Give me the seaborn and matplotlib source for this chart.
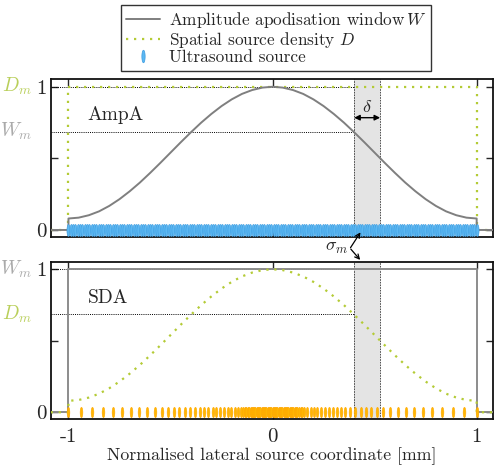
import numpy as np
import pandas as pd
import matplotlib
matplotlib.use("Agg")
import matplotlib.pyplot as plt
import seaborn as sns
from matplotlib.lines import Line2D

# ---------------- data ----------------
x_samples = np.linspace(-1, 1, 41)
W_ampa = [0.080, 0.086, 0.103, 0.130, 0.168, 0.215, 0.270, 0.331, 0.398, 0.468, 0.540,
          0.612, 0.682, 0.749, 0.810, 0.865, 0.912, 0.950, 0.977, 0.994, 1.000,
          0.994, 0.977, 0.950, 0.912, 0.865, 0.810, 0.749, 0.682, 0.612, 0.540,
          0.468, 0.398, 0.331, 0.270, 0.215, 0.168, 0.130, 0.103, 0.086, 0.080]
D_sda = list(W_ampa)
n_sources_top = 176
sda_sources_right = [0.000, 0.006, 0.012, 0.018, 0.024, 0.030, 0.036, 0.042, 0.048, 0.054,
                     0.060, 0.066, 0.072, 0.078, 0.084, 0.090, 0.096, 0.102, 0.108, 0.115,
                     0.122, 0.129, 0.137, 0.145, 0.155, 0.170, 0.186, 0.203, 0.220, 0.238,
                     0.256, 0.275, 0.294, 0.314, 0.335, 0.357, 0.380, 0.405, 0.431, 0.457,
                     0.483, 0.510, 0.540, 0.575, 0.613, 0.653, 0.694, 0.736, 0.780, 0.830,
                     0.885, 0.940, 1.000]
W_m = 0.687
D_m = 0.687
band = (0.40, 0.527)
xticks = [-1, 0, 1]
xtick_labels = ["-1", "0", "1"]

# ---------------- style ----------------
sns.set_style("ticks")
plt.rcParams["font.family"] = "serif"
plt.rcParams["font.serif"] = ["cmr10"]
plt.rcParams["mathtext.fontset"] = "cm"
plt.rcParams["axes.unicode_minus"] = False
plt.rcParams["axes.formatter.use_mathtext"] = True

GRAY = "#7f7f7f"
GREEN = "#b4cb36"
BLUE_F = "#5cb8f2"
BLUE_E = "#3a9ae0"
ORANGE_F = "#ffb703"
ORANGE_E = "#ffa600"
XMIN, XMAX = -1.087, 1.08

t = np.linspace(0, 2 * np.pi, 40)
ellipse = list(zip(0.13 * np.cos(t), 0.5 * np.sin(t)))

fig = plt.figure(figsize=(4.95, 4.70), dpi=100)
ax1 = fig.add_axes([50.7 / 495, 1 - 236.7 / 470, 442.3 / 495, 157.4 / 470])
ax2 = fig.add_axes([50.7 / 495, 1 - 419.3 / 470, 442.3 / 495, 157.6 / 470])

dot = (0, (1, 2.6))
refdot = (0, (1, 1.2))


def curve(x_in, y_in):
    xs = [XMIN, -1] + list(x_in) + [1, XMAX]
    ys = [0, 0] + list(y_in) + [0, 0]
    return xs, ys


def rect():
    return [XMIN, -1, -1, 1, 1, XMAX], [0, 0, 1, 1, 0, 0]


for ax in (ax1, ax2):
    ax.axvspan(band[0], band[1], color="#e4e4e4", zorder=0, lw=0)
    for b in band:
        ax.axvline(b, color="#333333", lw=0.6, ls=(0, (2, 1.2)), zorder=1)

# ---- top panel: AmpA ----
wx, wy = curve(x_samples, W_ampa)
dx, dy = rect()
ax1.plot([XMIN, band[0]], [1, 1], color="black", lw=0.7, ls=refdot, zorder=2)
ax1.plot([XMIN, band[0]], [W_m, W_m], color="black", lw=0.7, ls=refdot, zorder=2)
sns.lineplot(x=dx, y=dy, sort=False, estimator=None, ax=ax1, color=GREEN, lw=1.6, ls=dot, zorder=3)
sns.lineplot(x=wx, y=wy, sort=False, estimator=None, ax=ax1, color=GRAY, lw=1.4, zorder=4)
src_top = np.linspace(-1, 1, n_sources_top)
sns.scatterplot(x=src_top, y=np.zeros_like(src_top), ax=ax1, marker=ellipse, s=75,
                color=BLUE_F, edgecolor=BLUE_E, linewidth=0.4, zorder=5, legend=False)
ax1.text(-0.907, 0.80, "AmpA", fontsize=14, ha="left", va="center")
ax1.annotate("", xy=(band[0], 0.784), xytext=(band[1], 0.784),
             arrowprops=dict(arrowstyle="<|-|>", color="black", lw=1.0,
                             shrinkA=0, shrinkB=0, mutation_scale=8))
ax1.text(np.mean(band), 0.86, r"$\delta$", fontsize=13, ha="center", va="center")

# ---- bottom panel: SDA ----
wx2, wy2 = rect()
dx2, dy2 = curve(x_samples, D_sda)
ax2.plot([XMIN, band[0]], [1, 1], color="black", lw=0.7, ls=refdot, zorder=2)
ax2.plot([XMIN, band[0]], [D_m, D_m], color="black", lw=0.7, ls=refdot, zorder=2)
sns.lineplot(x=wx2, y=wy2, sort=False, estimator=None, ax=ax2, color="#8c8c8c", lw=1.4, zorder=3)
sns.lineplot(x=dx2, y=dy2, sort=False, estimator=None, ax=ax2, color=GREEN, lw=1.6, ls=dot, zorder=4)
right = np.array(sda_sources_right)
src_bot = np.concatenate([-right[::-1], right[1:]])
sns.scatterplot(x=src_bot, y=np.zeros_like(src_bot), ax=ax2, marker=ellipse, s=55,
                color=ORANGE_F, edgecolor=ORANGE_E, linewidth=0.4, zorder=5, legend=False)
ax2.text(-0.907, 0.80, "SDA", fontsize=14, ha="left", va="center")

# ---- axes formatting ----
for ax, ylim in ((ax1, (-0.047, 1.052)), (ax2, (-0.049, 1.053))):
    ax.set_xlim(XMIN, XMAX)
    ax.set_ylim(*ylim)
    ax.set_yticks([0, 0.5, 1])
    ax.set_yticklabels(["0", "", "1"], fontsize=15)
    ax.set_xticks(xticks)
    ax.tick_params(direction="in", top=True, right=True, length=5, width=1.0, pad=3)
    for s in ax.spines.values():
        s.set_linewidth(1.3)
        s.set_color("#111111")
    ax.set_xlabel("")
    ax.set_ylabel("")

ax1.set_xticklabels([])
ax2.set_xticklabels(xtick_labels, fontsize=15)
ax2.tick_params(axis="x", pad=6)
ax2.set_xlabel("Normalised lateral source coordinate [mm]", fontsize=12.8, labelpad=1)

ytr1 = ax1.get_yaxis_transform()
ytr2 = ax2.get_yaxis_transform()
ax1.text(-0.043, 1, r"$D_m$", transform=ytr1, color="#b9cf5a", fontsize=14, ha="right", va="center")
ax1.text(-0.043, W_m, r"$W_m$", transform=ytr1, color="#aaaaaa", fontsize=14, ha="right", va="center")
ax2.text(-0.043, 1, r"$W_m$", transform=ytr2, color="#aaaaaa", fontsize=14, ha="right", va="center")
ax2.text(-0.043, D_m, r"$D_m$", transform=ytr2, color="#b9cf5a", fontsize=14, ha="right", va="center")

# sigma_m annotation between the panels
fig.text(337 / 495, 1 - 248 / 470, r"$\sigma_m$", fontsize=13, ha="center", va="center")
fig.add_artist(matplotlib.patches.FancyArrowPatch(
    (349 / 495, 1 - 250 / 470), (362 / 495, 1 - 230 / 470), transform=fig.transFigure,
    arrowstyle="->", mutation_scale=8, lw=0.9, color="black"))
fig.add_artist(matplotlib.patches.FancyArrowPatch(
    (349 / 495, 1 - 247 / 470), (362 / 495, 1 - 262 / 470), transform=fig.transFigure,
    arrowstyle="->", mutation_scale=8, lw=0.9, color="black"))

# legend
handles = [Line2D([], [], color=GRAY, lw=1.4),
           Line2D([], [], color=GREEN, lw=1.6, ls=dot),
           Line2D([], [], ls="none", marker=ellipse, markersize=9,
                  markerfacecolor=BLUE_F, markeredgecolor=BLUE_E, markeredgewidth=0.5)]
labels = [r"Amplitude apodisation window$\,W$", r"Spatial source density $D$", "Ultrasound source"]
leg = fig.legend(handles, labels, loc="upper center", bbox_to_anchor=(276 / 495, 1 - 5 / 470),
                 fontsize=12.4, frameon=True, fancybox=False, edgecolor="black",
                 handlelength=2.0, handletextpad=0.5, labelspacing=0.0, borderpad=0.3,
                 borderaxespad=0)
leg.get_frame().set_linewidth(1.0)

fig.savefig("out.png", dpi=100)
